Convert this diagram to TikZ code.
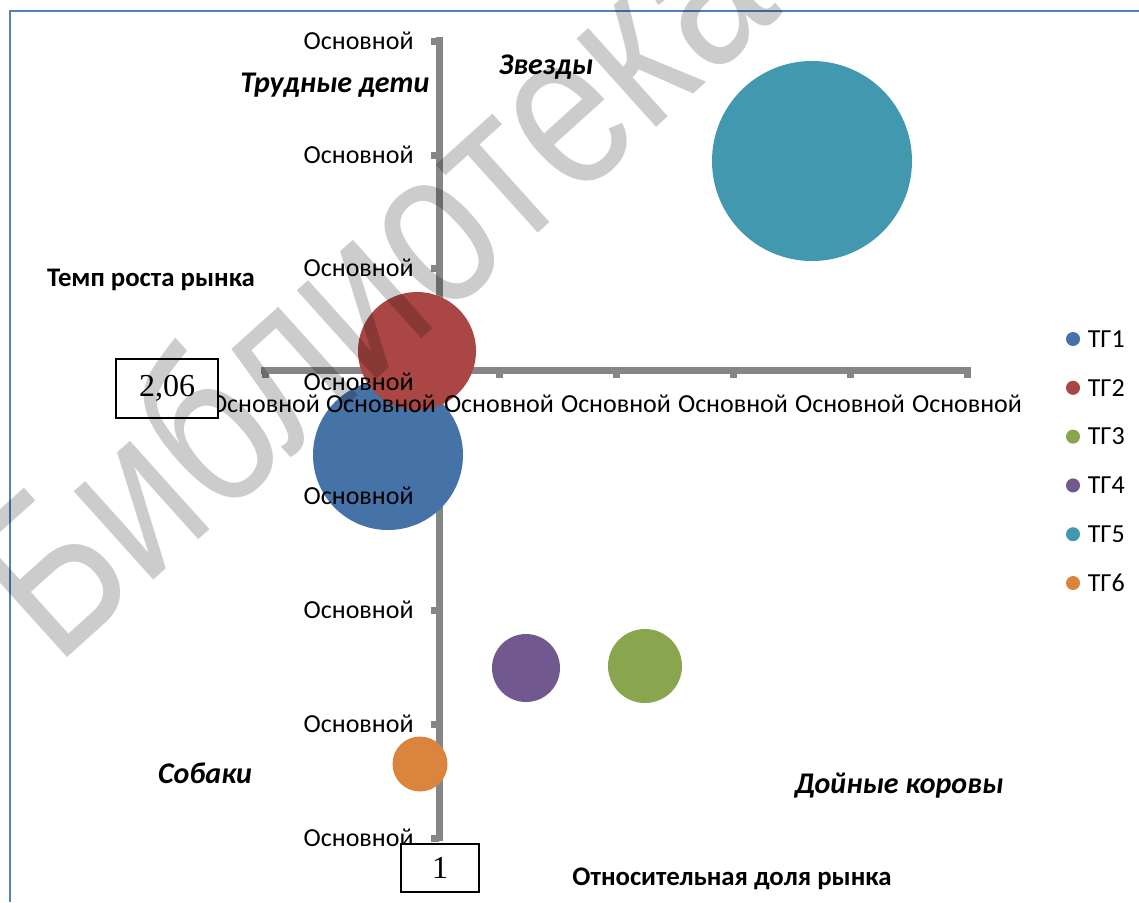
\documentclass[tikz,border=0pt]{standalone}
\usepackage{fontspec}
\setmainfont{Carlito}
\newfontfamily\serifnum{Liberation Serif}
\newfontfamily\wmfont{Liberation Sans}
\usetikzlibrary{positioning}
\definecolor{tgone}{HTML}{4572A7}
\definecolor{tgtwo}{HTML}{AA4643}
\definecolor{tgthree}{HTML}{89A54E}
\definecolor{tgfour}{HTML}{71588F}
\definecolor{tgfive}{HTML}{4198AF}
\definecolor{tgsix}{HTML}{DB843D}
\definecolor{axisgray}{HTML}{868686}
\definecolor{framecol}{HTML}{4F81BD}
\tikzset{
  axisline/.style={draw=axisgray,line width=3.5pt},
  bubble/.style={circle,inner sep=0pt,fill=#1},
  legdot/.style={circle,inner sep=0pt,minimum size=7pt,fill=#1},
  ticklabel/.style={inner sep=0pt,font=\fontsize{13}{15}\selectfont},
  quadlabel/.style={inner sep=0pt,font=\fontsize{15}{17}\selectfont\bfseries\itshape},
  axistitle/.style={inner sep=0pt,font=\fontsize{13.4}{15}\selectfont\bfseries},
  valbox/.style={draw,fill=white,line width=0.8pt,inner sep=0pt,font=\serifnum\fontsize{16}{18}\selectfont},
  watermark/.style={inner sep=0pt,rotate=42,yscale=1.25,text=black,text opacity=0.2,font=\wmfont\fontsize{90}{94}\selectfont}
}
\begin{document}
\begin{tikzpicture}[x=0.5pt,y=-0.5pt]
  \useasboundingbox (0,0) rectangle (1139,902);
  \coordinate (fa) at (10,902) ;
  \coordinate (fb) at (10,11) ;
  \coordinate (fc) at (1139,11) ;
  \draw[framecol,line width=0.8pt] (fa) -- (fb) -- (fc) ;
  \coordinate (ytop) at (439,37) ;
  \coordinate (ybot) at (439,841) ;
  \coordinate (xleft) at (261,370) ;
  \coordinate (xright) at (971,370) ;
  \draw[axisline] (ytop) -- (ybot) ;
  \draw[axisline] (xleft) -- (xright) ;
  \foreach \y in {41,155,268,382,496,610,724,838} \draw[axisline] (431,\y) -- (439,\y) ;
  \foreach \x in {265,381,499,616,733,850,967} \draw[axisline] (\x,370) -- (\x,378) ;
  \node[bubble=tgfive, minimum size=100pt] (tg5) at (812,161) {} ;
  \node[bubble=tgone, minimum size=75pt] (tg1) at (388,455) {} ;
  \node[bubble=tgtwo, minimum size=59pt] (tg2) at (417,351) {} ;
  \node[bubble=tgthree, minimum size=37pt] (tg3) at (645,666) {} ;
  \node[bubble=tgfour, minimum size=34pt] (tg4) at (526,668) {} ;
  \node[bubble=tgsix, minimum size=27.5pt] (tg6) at (420,764) {} ;
  \foreach \y in {41,155,268,382,496,610,724,838} \node[ticklabel, anchor=east] (ylab\y) at (414,\y) {Основной} ;
  \foreach \x in {265,381,499,616,733,850,967} \node[ticklabel] (xlab\x) at (\x,404) {Основной} ;
  \node[quadlabel] (hard) at (335,85) {Трудные дети} ;
  \node[quadlabel] (stars) at (546,67) {Звезды} ;
  \node[quadlabel] (dogs) at (205,773) {Собаки} ;
  \node[quadlabel] (cows) at (899,786) {Дойные коровы} ;
  \node[axistitle] (ytitle) at (151,280) {Темп роста рынка} ;
  \node[axistitle] (xtitle) at (732,879) {Относительная доля рынка} ;
  \node[valbox, minimum width=51pt, minimum height=29.5pt] (yval) at (167,388.5) {2,06} ;
  \node[valbox, minimum width=39pt, minimum height=24pt] (xval) at (440,868) {1} ;
  \node[legdot=tgone] (d1) at (1073,339) {} ;
  \node[legdot=tgtwo, below=17pt of d1] (d2) {} ;
  \node[legdot=tgthree, below=17pt of d2] (d3) {} ;
  \node[legdot=tgfour, below=17pt of d3] (d4) {} ;
  \node[legdot=tgfive, below=17pt of d4] (d5) {} ;
  \node[legdot=tgsix, below=17pt of d5] (d6) {} ;
  \node[ticklabel, right=3.5pt of d1] (l1) {ТГ1} ;
  \node[ticklabel, right=3.5pt of d2] (l2) {ТГ2} ;
  \node[ticklabel, right=3.5pt of d3] (l3) {ТГ3} ;
  \node[ticklabel, right=3.5pt of d4] (l4) {ТГ4} ;
  \node[ticklabel, right=3.5pt of d5] (l5) {ТГ5} ;
  \node[ticklabel, right=3.5pt of d6] (l6) {ТГ6} ;
  \node[watermark, anchor=base west] (wm) at (56,668) {Библиотека} ;
\end{tikzpicture}
\end{document}
